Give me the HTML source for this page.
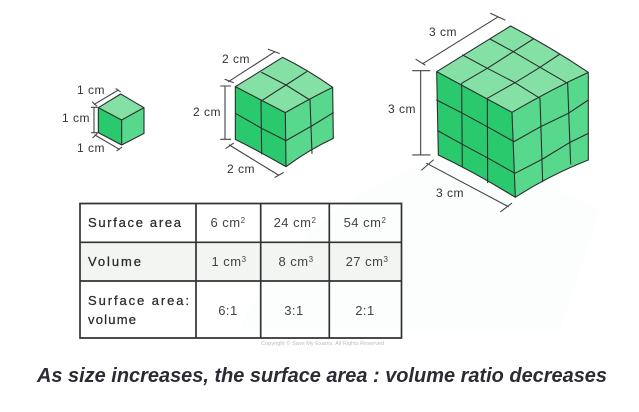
<!DOCTYPE html>
<html>
<head>
<meta charset="utf-8">
<style>
html,body{margin:0;padding:0;background:#fff}
svg{display:block}
text{font-family:"Liberation Sans",sans-serif;fill:#333}
.c{stroke:#2a2f2c;stroke-width:3.3;stroke-linejoin:round;stroke-linecap:round;fill:none}
.d{stroke:#444;stroke-width:3.3;fill:none;stroke-linecap:round}
.l{font-size:12px;text-anchor:middle;letter-spacing:.5px}
.t{font-size:13px;fill:#2a2a2a;stroke:#2a2a2a;stroke-width:.25}
.v{font-size:13px;text-anchor:middle;letter-spacing:.5px;fill:#444}
.s{font-size:8px}
</style>
</head>
<body>
<svg width="639" height="412" viewBox="0 0 639 412" xmlns="http://www.w3.org/2000/svg">
<rect width="639" height="412" fill="#fff"/>
<path d="M240 330C270 250 350 180 470 150L600 210L560 330Z" fill="#fcfefe"/>

<!-- small cube -->
<g transform="translate(50,70) scale(.3333)">
<path d="M212 72L145 113L215 150L282 113Z" fill="#85e0a6"/>
<path d="M145 113L215 150L215 225L145 188Z" fill="#2bc96e"/>
<path d="M215 150L282 113L282 190L215 225Z" fill="#58d88c"/>
<path class="c" d="M212 72L145 113L145 188L215 225L282 190L282 113ZM145 113L215 150L282 113M215 150V225"/>
<path class="d" d="M133 103L205 60M127 96L140 108M198 56L211 65M132 112V188M124 112H142M124 188H142M135 195L208 238M129 203L142 190M201 242L215 232"/>
</g>
<text class="l" x="91" y="94">1 cm</text>
<text class="l" x="76" y="122">1 cm</text>
<text class="l" x="91" y="152">1 cm</text>

<!-- medium cube -->
<g transform="translate(180,40) scale(.3333)">
<path d="M308 52L166 140L316 218Q390 175 458 142Q385 90 308 52Z" fill="#85e0a6"/>
<path d="M166 140L316 218L318 380Q240 335 166 298Z" fill="#2bc96e"/>
<path d="M316 218Q390 175 458 142L460 295Q385 330 318 380Z" fill="#58d88c"/>
<path class="c" d="M308 52L166 140L166 298Q240 335 318 380Q385 330 460 295L458 142Q385 90 308 52ZM166 140L316 218Q390 175 458 142M316 218L318 380M245 97L318 135L390 180M380 95L318 135L245 182M243 180L245 342M166 220L245 265L318 302L395 258L460 218M390 180L396 340"/>
<path class="d" d="M145 125L285 35M135 118L160 128M265 28L298 40M135 138V298M122 138H152M122 298H152M148 315L295 405M138 325L160 310M285 412L310 398"/>
</g>
<text class="l" x="236" y="63">2 cm</text>
<text class="l" x="207" y="116">2 cm</text>
<text class="l" x="241" y="173">2 cm</text>

<!-- large cube -->
<g transform="translate(380,10) scale(.3333)">
<path d="M392 48L170 185L396 307Q510 240 625 187Q510 110 392 48Z" fill="#85e0a6"/>
<path d="M170 185L396 307L406 562Q290 490 175 435Z" fill="#2bc96e"/>
<path d="M396 307Q510 240 625 187L625 450Q510 495 406 562Z" fill="#58d88c"/>
<path class="c" d="M392 48L170 185L175 435Q290 490 406 562Q510 495 625 450L625 187Q510 110 392 48ZM170 185L396 307Q510 240 625 187M396 307L406 562M330 87L400 125L480 172L563 220M248 135L322 175L405 218L480 265M460 87L400 125L322 175L245 220M540 132L480 172L405 218L322 265M245 220L247 470M322 265L323 518M170 270L248 310L325 352L402 395L482 350L565 310L625 270M173 362L247 403L325 445L405 490L488 447L570 397L625 370M480 265L488 515M563 220L572 462"/>
<path class="d" d="M130 160L352 22M108 148L135 165M332 10L375 30M122 182V435M98 182H150M98 435H150M140 460L385 590M125 480L160 450M362 605L395 580"/>
</g>
<text class="l" x="443" y="36">3 cm</text>
<text class="l" x="402" y="113">3 cm</text>
<text class="l" x="450" y="197">3 cm</text>

<!-- table -->
<rect x="80" y="242" width="322" height="39" fill="#f3f5f3"/>
<path d="M80 203.5H401.5V338H80ZM80 242.3H401.5M80 281H401.5M196 203.5V338M260.7 203.5V338M329.3 203.5V338" fill="none" stroke="#333" stroke-width="1.7"/>
<text class="t" x="88" y="227" textLength="93">Surface area</text>
<text class="t" x="88" y="266" textLength="53">Volume</text>
<text class="t" x="88" y="305" textLength="101">Surface area:</text>
<text class="t" x="88" y="324" textLength="48">volume</text>
<text class="v" x="228" y="227">6 cm<tspan class="s" dy="-4">2</tspan></text>
<text class="v" x="295" y="227">24 cm<tspan class="s" dy="-4">2</tspan></text>
<text class="v" x="365" y="227">54 cm<tspan class="s" dy="-4">2</tspan></text>
<text class="v" x="229" y="266">1 cm<tspan class="s" dy="-4">3</tspan></text>
<text class="v" x="296" y="266">8 cm<tspan class="s" dy="-4">3</tspan></text>
<text class="v" x="367" y="266">27 cm<tspan class="s" dy="-4">3</tspan></text>
<text class="v" x="228" y="315">6:1</text>
<text class="v" x="294" y="315">3:1</text>
<text class="v" x="365" y="315">2:1</text>
<text x="261" y="345" font-size="5" style="fill:#bdbdbd" textLength="123" lengthAdjust="spacingAndGlyphs">Copyright © Save My Exams. All Rights Reserved</text>

<text x="37" y="382" font-size="20" font-weight="bold" font-style="italic" style="fill:#2b2b33" textLength="570" lengthAdjust="spacingAndGlyphs">As size increases, the surface area : volume ratio decreases</text>
</svg>
</body>
</html>
